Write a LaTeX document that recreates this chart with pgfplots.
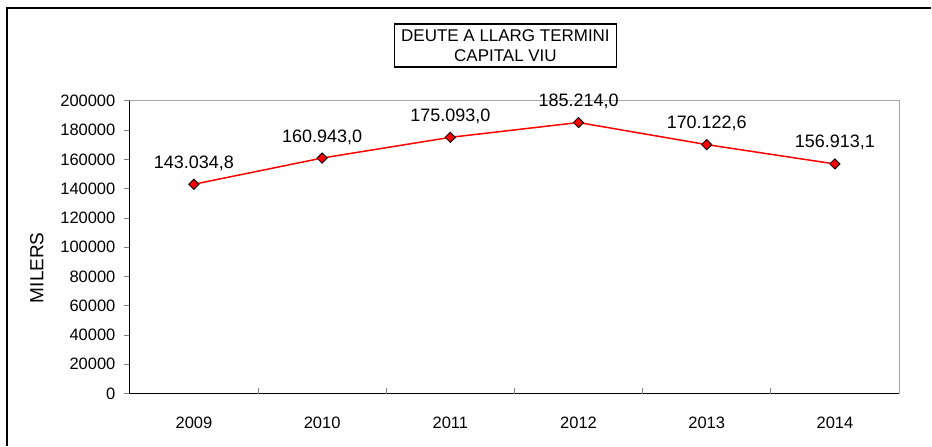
\documentclass[border=0pt]{standalone}
\usepackage{pgfplots}
\pgfplotsset{compat=1.18}
\usepackage{pgfplotstable}
\usepackage{fontspec}
\setmainfont{Liberation Sans}
\pgfplotstableread{
x y label
0 143034.8 143.034,8
1 160943.0 160.943,0
2 175093.0 175.093,0
3 185214.0 185.214,0
4 170122.6 170.122,6
5 156913.1 156.913,1
}\debtdata
\begin{document}
\begin{tikzpicture}
\fill[white] (0pt,0pt) rectangle (932pt,446pt);
\draw[line width=2pt] (7pt,0pt) -- (7pt,438pt) -- (932pt,438pt);
\node[draw, line width=1.2pt, minimum width=222pt, minimum height=43pt, align=center, inner sep=0pt,
  font=\fontsize{17}{19.5}\selectfont] at (506pt,400.5pt) {DEUTE A LLARG TERMINI\\CAPITAL VIU};
\node[rotate=90, font=\fontsize{19}{22}\selectfont] at (37pt,178pt) {MILERS};
\begin{axis}[at={(130pt,52pt)}, anchor=south west, scale only axis,
  width=770pt, height=293pt,
  xmin=-0.5, xmax=5.5, ymin=0, ymax=200000,
  axis lines*=left,
  axis line style={black, line width=1.2pt},
  tick align=outside,
  major tick length=6pt,
  tick style={gray, line width=0.8pt},
  /pgf/number format/assume math mode=true,
  tick label style={font=\fontsize{16.5}{19}\selectfont},
  ytick distance=20000,
  scaled y ticks=false,
  yticklabel style={xshift=-5pt, /pgf/number format/fixed, /pgf/number format/1000 sep={}},
  xtick={0,1,2,3,4,5},
  xticklabels={2009,2010,2011,2012,2013,2014},
  x tick style={draw=none},
  xticklabel style={yshift=-14pt},
  extra x ticks={0.5,1.5,2.5,3.5,4.5},
  extra x tick labels={},
  extra x tick style={x tick style={draw=gray, yshift=6pt}},
  clip=false,
  nodes near coords,
  point meta=explicit symbolic,
  every node near coord/.append style={anchor=base, yshift=16pt, font=\fontsize{18}{21}\selectfont, text=black},
]
\draw[gray!70, line width=1pt] (rel axis cs:0,1) -- (rel axis cs:1,1) -- (rel axis cs:1,0);
\addplot[red, line width=1.5pt, mark=square*, mark size=3.6pt,
  mark options={rotate=45, fill=red, draw=black, line width=0.9pt}]
  table[x=x, y=y, meta=label] {\debtdata};
\end{axis}
\end{tikzpicture}
\end{document}
